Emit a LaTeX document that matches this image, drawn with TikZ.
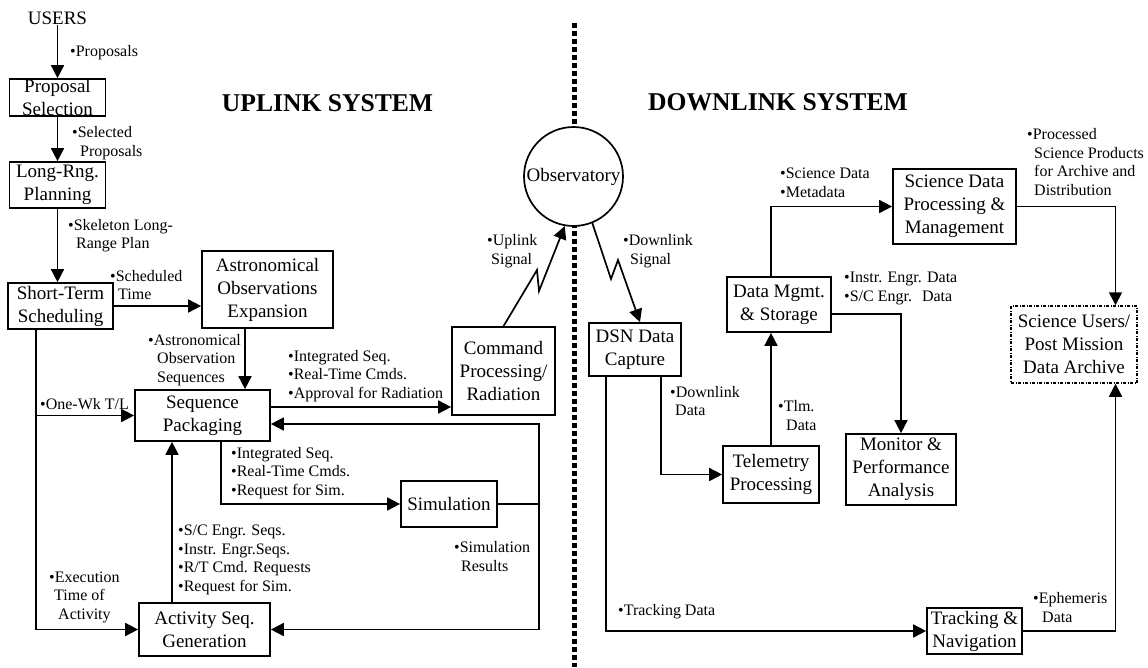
\documentclass[tikz,border=0pt]{standalone}
\usepackage{fontspec}
\setmainfont{Liberation Serif}
\usetikzlibrary{arrows.meta}
\begin{document}
\begin{tikzpicture}[x=1pt,y=-1pt,
  bx/.style={draw, line width=1.7pt, align=center, inner sep=0pt, fill=white, font=\fontsize{19}{23}\selectfont},
  lab/.style={anchor=west, align=left, inner sep=0pt, font=\fontsize{16}{18.5}\selectfont},
  ttl/.style={inner sep=0pt, font=\fontsize{25.6}{30}\selectfont\bfseries},
  arr/.style={line width=1.7pt, -{Triangle[length=13pt,width=13pt]}},
  divider/.style={line width=5pt, dash pattern=on 4.5pt off 3.5pt}]
\useasboundingbox (0,0) rectangle (1148,667);
% divider
\coordinate (dtop) at (574,23);
\coordinate (dbot) at (574,667);
\draw[divider] (dtop) -- (dbot);
% titles
\node[ttl] (uptitle) at (327.5,103) {UPLINK SYSTEM};
\node[ttl] (dntitle) at (778,102) {DOWNLINK SYSTEM};
% nodes uplink
\node[inner sep=0pt, font=\fontsize{19}{23}\selectfont] (users) at (57.5,18) {USERS};
\node[bx, minimum width=96pt, minimum height=37pt] (prop) at (57.5,97.5) {Proposal\\Selection};
\node[bx, minimum width=96pt, minimum height=46pt] (lrp) at (57.5,185) {Long-Rng.\\Planning};
\node[bx, minimum width=105pt, minimum height=46pt] (sts) at (60.5,306) {Short-Term\\Scheduling};
\node[bx, minimum width=131pt, minimum height=77pt] (aoe) at (267.5,289.5) {Astronomical\\Observations\\Expansion};
\node[bx, minimum width=135pt, minimum height=51pt] (seq) at (202.5,415.5) {Sequence\\Packaging};
\node[bx, minimum width=131pt, minimum height=53pt] (act) at (204.5,629.5) {Activity Seq.\\Generation};
\node[bx, minimum width=96pt, minimum height=46pt] (sim) at (449,504) {Simulation};
\node[bx, minimum width=103pt, minimum height=88pt] (cmd) at (503.5,371) {Command\\Processing/\\Radiation};
\node[draw, circle, line width=1.7pt, fill=white, inner sep=0pt, minimum size=99pt, font=\fontsize{19}{23}\selectfont] (obs) at (573.5,176.5) {Observatory};
% nodes downlink
\node[bx, minimum width=92pt, minimum height=53pt] (dsn) at (635,349.5) {DSN Data\\Capture};
\node[bx, minimum width=96pt, minimum height=57pt] (tlm) at (771,474.5) {Telemetry\\Processing};
\node[bx, minimum width=104pt, minimum height=55pt] (dms) at (779,304.5) {Data Mgmt.\\\& Storage};
\node[bx, minimum width=123pt, minimum height=75pt] (sdp) at (954.5,206.5) {Science Data\\Processing \&\\Management};
\node[bx, minimum width=126pt, minimum height=77pt, line width=1.5pt, dash pattern=on 3pt off 1.5pt on 1pt off 1.5pt] (sus) at (1074,344.5) {Science Users/\\Post Mission\\Data Archive};
\node[bx, minimum width=110pt, minimum height=71pt] (mon) at (901,469.5) {Monitor \&\\Performance\\Analysis};
\node[bx, minimum width=95pt, minimum height=46pt] (trk) at (974.5,631) {Tracking \&\\Navigation};
% helper coordinates
\coordinate (xA) at (245,0);
\coordinate (xS) at (36,0);
\coordinate (xB) at (172,0);
\coordinate (xC) at (221,0);
\coordinate (simr) at (539,424);
\coordinate (yE) at (0,407);
\coordinate (xF) at (606,0);
\coordinate (xH) at (661,0);
\coordinate (xG) at (1115.5,0);
\coordinate (xM) at (771,0);
% connectors uplink
\draw[arr] (users) -- (prop);
\draw[arr] (prop) -- (lrp);
\draw[arr] (lrp.south) -- (lrp.south |- sts.north);
\draw[arr] (sts.east) -- (sts.east -| aoe.west);
\draw[arr] (aoe.south -| xA) -- (seq.north -| xA);
\draw[arr] (sts.south -| xS) |- (act.west);
\draw[arr] (xS |- seq.west) -- (seq.west);
\draw[arr] (act.north -| xB) -- (seq.south -| xB);
\draw[arr] (seq.south -| xC) |- (sim.west);
\draw[arr] (sim.east) -| (simr) -- (simr -| seq.east);
\draw[arr] (sim.east -| simr) |- (act.east);
\draw[arr] (seq.east |- yE) -- (cmd.west |- yE);
\draw[arr] (cmd.north) -- (537,270) -- (539,291) -- (obs.-100);
% connectors downlink
\draw[arr] (obs.-68) -- (611,279) -- (618,260) -- ([xshift=5pt]dsn.north);
\draw[arr] (xH |- dsn.south) |- (tlm.west);
\draw[arr] (xF |- dsn.south) |- (trk.west);
\draw[arr] (tlm.north) -- (tlm.north |- dms.south);
\draw[arr] (xM |- dms.north) |- (sdp.west);
\draw[arr] ([yshift=-9.5pt]dms.east) -| (mon.north);
\draw[arr] (sdp.east) -| (xG |- sus.north);
\draw[arr] (trk.east) -| (xG |- sus.south);
% labels
\node[lab] (l1) at (70,53) {•Proposals};
\node[lab] (l2) at (72,143) {•Selected\\\hspace*{8pt}Proposals};
\node[lab] (l3) at (68,235.5) {•Skeleton Long-\\\hspace*{8pt}Range Plan};
\node[lab] (l4) at (110,285) {•Scheduled\\\hspace*{8pt}Time};
\node[lab] (l5) at (148,360) {•Astronomical\\\hspace*{9pt}Observation\\\hspace*{9pt}Sequences};
\node[lab] (l6) at (40,404) {•One-Wk T/L};
\node[lab] (l7) at (288,375.7) {•Integrated Seq.\\•Real-Time Cmds.\\•Approval for Radiation};
\node[lab] (l8) at (231,472.7) {•Integrated Seq.\\•Real-Time Cmds.\\•Request for Sim.};
\node[lab] (l9) at (178,560) {•S/C Engr. Seqs.\\•Instr. Engr.Seqs.\\•R/T Cmd. Requests\\•Request for Sim.};
\node[lab] (l10) at (49,597) {•Execution\\\hspace*{5pt}Time of\\\hspace*{9pt}Activity};
\node[lab] (l11) at (454,556.5) {•Simulation\\\hspace*{7pt}Results};
\node[lab] (l12) at (487,251) {•Uplink\\\hspace*{4pt}Signal};
\node[lab] (l13) at (623,251) {•Downlink\\\hspace*{7pt}Signal};
\node[lab] (l14) at (670,401) {•Downlink\\\hspace*{5pt}Data};
\node[lab] (l15) at (778,415.5) {•Tlm.\\\hspace*{8pt}Data};
\node[lab] (l16) at (618,612) {•Tracking Data};
\node[lab] (l17) at (1033,607.5) {•Ephemeris\\\hspace*{9pt}Data};
\node[lab] (l18) at (780,183) {•Science Data\\•Metadata};
\node[lab] (l19) at (844,288.5) {•Instr. Engr. Data\\•S/C Engr.\hspace{10pt}Data};
\node[lab] (l20) at (1027,162) {•Processed\\\hspace*{7pt}Science Products\\\hspace*{7pt}for Archive and\\\hspace*{7pt}Distribution};
\end{tikzpicture}
\end{document}
